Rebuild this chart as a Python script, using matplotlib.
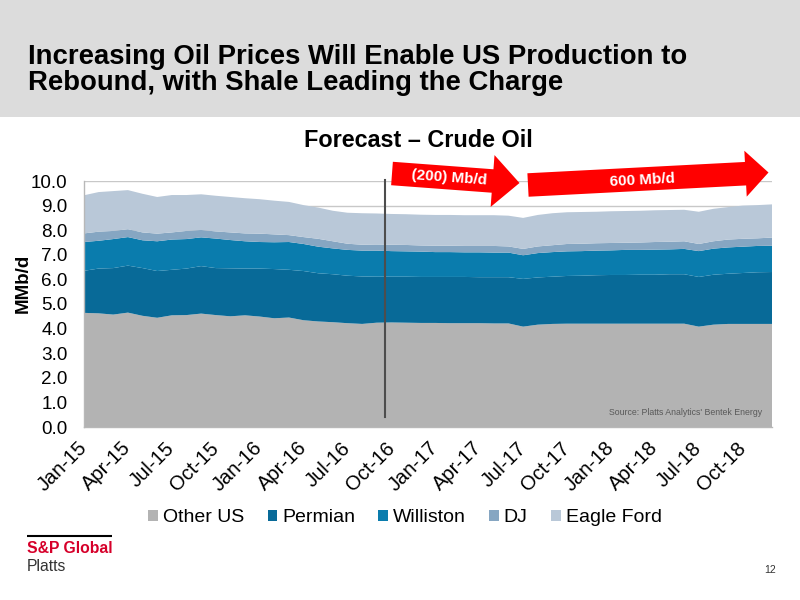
import matplotlib
matplotlib.use('Agg')
import matplotlib.pyplot as plt
import numpy as np
from matplotlib.patches import FancyArrow, Rectangle, Patch

plt.rcParams['font.family'] = ['Liberation Sans', 'DejaVu Sans']

# ---------------- data (MMb/d), monthly Jan-15 .. Dec-18 ----------------
series_names = ['Other US', 'Permian', 'Williston', 'DJ', 'Eagle Ford']
other_us = [4.64, 4.62, 4.57, 4.65, 4.52, 4.44, 4.54, 4.55, 4.61, 4.55, 4.50, 4.54,
            4.49, 4.42, 4.45, 4.34, 4.29, 4.26, 4.22, 4.19, 4.24, 4.25, 4.24, 4.23,
            4.23, 4.22, 4.22, 4.22, 4.21, 4.21, 4.08, 4.16, 4.19, 4.20, 4.20, 4.20,
            4.20, 4.20, 4.20, 4.20, 4.20, 4.20, 4.08, 4.16, 4.19, 4.19, 4.19, 4.19]
permian = [1.71, 1.82, 1.89, 1.91, 1.94, 1.90, 1.85, 1.89, 1.93, 1.91, 1.95, 1.90,
           1.95, 2.00, 1.94, 2.00, 1.96, 1.95, 1.93, 1.93, 1.87, 1.86, 1.87, 1.87,
           1.87, 1.88, 1.88, 1.87, 1.88, 1.88, 1.94, 1.92, 1.92, 1.94, 1.95, 1.97,
           1.98, 1.98, 1.99, 1.99, 2.01, 2.01, 2.02, 2.03, 2.04, 2.07, 2.10, 2.11]
williston = [1.17, 1.13, 1.18, 1.16, 1.13, 1.21, 1.23, 1.20, 1.17, 1.20, 1.15, 1.11,
             1.08, 1.09, 1.13, 1.10, 1.08, 1.05, 1.05, 1.05, 1.06, 1.04, 1.03, 1.03,
             1.01, 1.01, 1.00, 1.01, 1.00, 1.00, 0.96, 0.99, 1.00, 1.00, 1.00, 1.00,
             1.00, 1.02, 1.01, 1.02, 1.01, 1.03, 1.05, 1.06, 1.07, 1.07, 1.07, 1.07]
dj = [0.35, 0.37, 0.33, 0.32, 0.32, 0.31, 0.29, 0.33, 0.30, 0.29, 0.31, 0.32,
      0.34, 0.32, 0.28, 0.28, 0.32, 0.29, 0.25, 0.24, 0.25, 0.26, 0.26, 0.25,
      0.26, 0.26, 0.26, 0.26, 0.27, 0.25, 0.26, 0.27, 0.28, 0.30, 0.30, 0.30,
      0.30, 0.29, 0.30, 0.31, 0.31, 0.31, 0.29, 0.30, 0.32, 0.32, 0.31, 0.33]
eagle_ford = [1.55, 1.61, 1.62, 1.59, 1.57, 1.49, 1.52, 1.46, 1.45, 1.45, 1.44, 1.43,
              1.40, 1.37, 1.35, 1.30, 1.27, 1.24, 1.26, 1.28, 1.26, 1.25, 1.25, 1.25,
              1.25, 1.25, 1.25, 1.25, 1.25, 1.25, 1.26, 1.28, 1.30, 1.29, 1.29, 1.28,
              1.29, 1.29, 1.29, 1.29, 1.29, 1.28, 1.31, 1.32, 1.32, 1.35, 1.35, 1.35]
tick_labels = ['Jan-15', 'Apr-15', 'Jul-15', 'Oct-15', 'Jan-16', 'Apr-16', 'Jul-16', 'Oct-16',
               'Jan-17', 'Apr-17', 'Jul-17', 'Oct-17', 'Jan-18', 'Apr-18', 'Jul-18', 'Oct-18']
forecast_start = 20.58   # between Sep-16 and Oct-16
y_ticks = [0, 1, 2, 3, 4, 5, 6, 7, 8, 9, 10]

colors = ['#b3b3b3', '#086a98', '#0a7cad', '#86a6c2', '#b9c8d8']

# ---------------- figure ----------------
W, H = 800, 600
fig = plt.figure(figsize=(8, 6), dpi=100)
fig.patch.set_facecolor('white')

# background in pixel coordinates
bg = fig.add_axes([0, 0, 1, 1], zorder=0)
bg.set_xlim(0, W); bg.set_ylim(H, 0); bg.axis('off')
bg.add_patch(Rectangle((0, 0), W, 117, color='#dcdcdc', lw=0))
bg.text(28, 63.5, 'Increasing Oil Prices Will Enable US Production to', fontsize=19.8,
        fontweight='bold', ha='left', va='baseline', color='black')
bg.text(28, 90.5, 'Rebound, with Shale Leading the Charge', fontsize=19.8,
        fontweight='bold', ha='left', va='baseline', color='black')
bg.text(418, 147, 'Forecast \u2013 Crude Oil', fontsize=16.8, fontweight='bold',
        ha='center', va='baseline')

# chart axes
left, right, top, bottom = 84, 772, 181, 427
ax = fig.add_axes([left / W, 1 - bottom / H, (right - left) / W, (bottom - top) / H], zorder=1)
ax.patch.set_alpha(0)
x = np.arange(len(other_us))
ax.stackplot(x, other_us, permian, williston, dj, eagle_ford, colors=colors,
             labels=series_names, lw=0)
ax.set_xlim(0, len(x) - 1)
ax.set_ylim(0, 10)
ax.set_yticks(y_ticks)
ax.set_yticklabels([f'{v:.1f}' for v in y_ticks])
ax.grid(axis='y', color='#c8c8c8', lw=1)
ax.set_axisbelow(True)
for s in ['top', 'right']:
    ax.spines[s].set_visible(False)
for s in ['left', 'bottom']:
    ax.spines[s].set_color('#b8b8b8')
    ax.spines[s].set_linewidth(1)
ax.set_xticks(np.arange(0, len(x), 3))
ax.set_xticklabels(tick_labels, rotation=45, ha='right', va='center', rotation_mode='anchor')
ax.tick_params(axis='y', length=0, pad=12, labelsize=13.6)
ax.tick_params(axis='x', length=0, pad=13, labelsize=14.5)
ax.set_ylabel('MMb/d', fontsize=13.5, fontweight='bold')
ax.yaxis.set_label_coords((32 - left) / (right - left), (bottom - 283) / (bottom - top))
ax.plot([forecast_start, forecast_start], [0.4, 10.05], color='#4d4d4d', lw=1.5,
        clip_on=False, zorder=5)
ax.text(0.985, 0.06, "Source: Platts Analytics' Bentek Energy", transform=ax.transAxes,
        ha='right', va='center', fontsize=6.3, color='#595959')

# overlay for arrows
ov = fig.add_axes([0, 0, 1, 1], zorder=3)
ov.set_xlim(0, W); ov.set_ylim(H, 0); ov.axis('off')
ov.add_patch(FancyArrow(392, 173.5, 127.5, 9.5, width=23.5, head_width=52, head_length=27,
                        length_includes_head=True, color='#ff0000', lw=0))
ov.add_patch(FancyArrow(528, 185, 240.5, -12.5, width=23.5, head_width=46, head_length=23,
                        length_includes_head=True, color='#ff0000', lw=0))
ov.text(449, 178, '(200) Mb/d', color='white', fontsize=11, fontweight='bold',
        ha='center', va='center', rotation=-4.2, rotation_mode='anchor')
ov.text(642, 180, '600 Mb/d', color='white', fontsize=11, fontweight='bold',
        ha='center', va='center', rotation=3, rotation_mode='anchor')

# logo and page number
ov.plot([27, 112], [536, 536], color='black', lw=1.5, solid_capstyle='butt')
ov.text(27, 553.3, 'S&P Global', color='#d6002a', fontsize=11.3, fontweight='bold',
        ha='left', va='baseline')
ov.text(27, 570.7, 'Platts', color='#333333', fontsize=11.3,
        ha='left', va='baseline')
ov.text(770, 570, '12', color='#333333', fontsize=7.5, ha='center', va='center')

# legend
handles = [Patch(facecolor=c, edgecolor='none') for c in colors]
fig.legend(handles, series_names, loc='center', bbox_to_anchor=(405 / W, 1 - 518 / H),
           ncol=5, frameon=False, fontsize=14, handlelength=0.5, handleheight=0.5,
           handletextpad=0.25, columnspacing=1.2)

fig.savefig('out.png', dpi=100)
